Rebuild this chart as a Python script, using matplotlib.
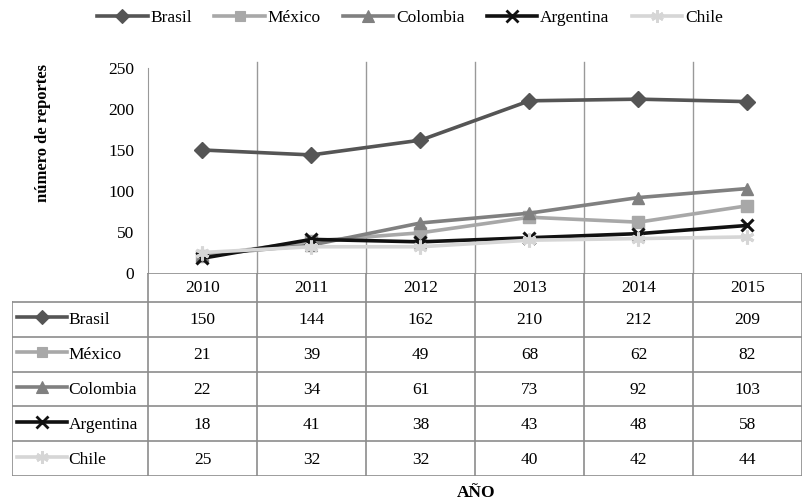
import numpy as np
import matplotlib.pyplot as plt
from matplotlib.lines import Line2D

plt.rcParams['font.family'] = ['Liberation Serif', 'DejaVu Serif']

# datos: reportes por país y año
anios = ['2010', '2011', '2012', '2013', '2014', '2015']
paises = ['Brasil', 'México', 'Colombia', 'Argentina', 'Chile']
brasil = [150, 144, 162, 210, 212, 209]
mexico = [21, 39, 49, 68, 62, 82]
colombia = [22, 34, 61, 73, 92, 103]
argentina = [18, 41, 38, 43, 48, 58]
chile = [25, 32, 32, 40, 42, 44]
series = [brasil, mexico, colombia, argentina, chile]

# estilos de cada serie
colores = ['#555555', '#a8a8a8', '#808080', '#111111', '#d6d6d6']
marcadores = ['D', 's', '^', 'x', (6, 2, 0)]
tam_marc = [8, 8, 9, 9, 10]


def grosor(m):
    return 2.2 if m in ('x', (6, 2, 0)) else 1


W, H = 803, 503
fig = plt.figure(figsize=(W / 100, H / 100), dpi=100)

# ── gráfico de líneas ────────────────────────────────────────────────
x0, x1 = 148, 802
y_top, y_base = 68, 273
ax = fig.add_axes([x0 / W, 1 - y_base / H, (x1 - x0) / W, (y_base - y_top) / H])
x = np.arange(len(anios))
for vals, c, m, ms in zip(series, colores, marcadores, tam_marc):
    ax.plot(x, vals, color=c, lw=2.6, marker=m, ms=ms, mew=grosor(m), mec=c, mfc=c)
ax.set_xlim(-0.5, 5.5)
ax.set_ylim(0, 250)
ax.set_yticks([0, 50, 100, 150, 200, 250])
ax.tick_params(axis='y', length=0, labelsize=12.5, pad=10)
ax.set_xticks([])
for s in ['top', 'right', 'bottom']:
    ax.spines[s].set_visible(False)
ax.spines['left'].set_color('#999999')
for b in np.arange(0.5, 5.5, 1):
    ax.axvline(b, ymax=1.03, color='#999999', lw=1, clip_on=False, zorder=0)
ax.set_ylabel('número de reportes', fontsize=12, fontweight='bold')
ax.yaxis.set_label_coords((51 - x0) / (x1 - x0), (y_base - 133) / (y_base - y_top))
ax.patch.set_alpha(0)

# ── tabla de datos ───────────────────────────────────────────────────
t_left, t_bot = 12, 476
tax = fig.add_axes([t_left / W, 1 - t_bot / H, (x1 - t_left) / W, (t_bot - y_base) / H])
unidad = (x1 - x0) / 6
xl = -0.5 - (x0 - t_left) / unidad
tax.set_xlim(xl, 5.5)
alto_enc = 29
alto_fila = (t_bot - y_base - alto_enc) / len(paises)
tax.set_ylim(t_bot - y_base, 0)
tax.axis('off')

gris = '#8c8c8c'
tax.plot([-0.5, 5.5], [0, 0], color=gris, lw=1.2)
for i in range(len(paises) + 1):
    yy = alto_enc + i * alto_fila
    tax.plot([xl, 5.5], [yy, yy], color=gris, lw=1.2)
tax.plot([xl, xl], [alto_enc, t_bot - y_base], color=gris, lw=1.2)
for k in range(7):
    tax.plot([-0.5 + k, -0.5 + k], [0, t_bot - y_base], color=gris, lw=1.2)

for j, a in enumerate(anios):
    tax.text(j, alto_enc / 2 + 1, a, ha='center', va='center', fontsize=12.5)

for i, (p, vals, c, m, ms) in enumerate(zip(paises, series, colores, marcadores, tam_marc)):
    yc = alto_enc + (i + 0.5) * alto_fila
    tax.plot([xl + 0.05, xl + 0.5], [yc - 2, yc - 2], color=c, lw=2.6)
    tax.plot([xl + 0.275], [yc - 2], color=c, marker=m, ms=ms - 1,
             mew=grosor(m) - 0.2, mec=c, mfc=c)
    tax.text(xl + 0.52, yc + 1, p, ha='left', va='center', fontsize=12.5)
    for j, v in enumerate(vals):
        tax.text(j, yc + 1, str(v), ha='center', va='center', fontsize=12.5)

fig.text(476 / W, 1 - 493 / H, 'AÑO', ha='center', va='center', fontsize=12.5, fontweight='bold')

# ── leyenda superior ─────────────────────────────────────────────────
handles = [Line2D([], [], color=c, lw=2.6, marker=m, ms=ms - 1,
                  mew=grosor(m) - 0.2, mec=c, mfc=c)
           for c, m, ms in zip(colores, marcadores, tam_marc)]
fig.legend(handles, paises, loc='center', bbox_to_anchor=(410 / W, 1 - 18 / H), ncol=5,
           frameon=False, fontsize=12.5, handlelength=2.9, handletextpad=0.15,
           columnspacing=1.3)

fig.savefig('out.png', dpi=100)
